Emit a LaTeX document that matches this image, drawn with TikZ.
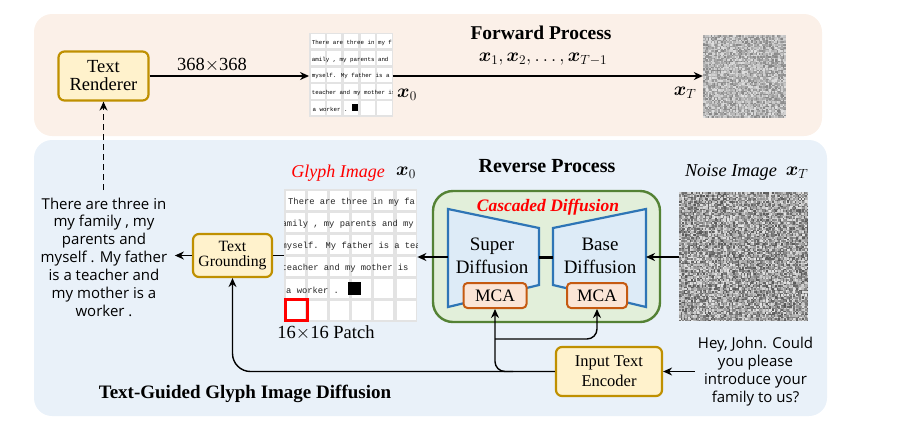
\RequirePackage{fix-cm}
\documentclass[tikz,border=0pt]{standalone}
\usepackage{amsmath}
\usepackage{fontspec}
\setmainfont{Liberation Serif}
\newfontfamily\sanstxt{Open Sans}
\newfontfamily\monotxt{Liberation Mono}
\usetikzlibrary{arrows.meta}
\definecolor{toppanel}{HTML}{FBF0E8}
\definecolor{botpanel}{HTML}{E9F1F9}
\definecolor{boxgold}{HTML}{BF9000}
\definecolor{boxyellow}{HTML}{FFF2CC}
\definecolor{greenborder}{HTML}{548235}
\definecolor{greenfill}{HTML}{E2EFDA}
\definecolor{blueborder}{HTML}{2E75B6}
\definecolor{bluefill}{HTML}{DDEBF7}
\definecolor{mcaborder}{HTML}{C55A11}
\definecolor{mcafill}{HTML}{FBE5D6}
\definecolor{gridgray}{HTML}{E3E3E3}
\tikzset{
  yellowbox/.style={draw=boxgold, fill=boxyellow, line width=2.2pt, rounded corners=6pt, align=center, inner sep=0pt},
  mcabox/.style={draw=mcaborder, fill=mcafill, line width=2pt, rounded corners=4pt, inner sep=0pt, font=\fontsize{17.5}{20}\selectfont},
  arr/.style={-{Stealth[length=9pt,width=8pt]}, line width=1.4pt},
  plain/.style={line width=1.4pt},
  serif18/.style={font=\fontsize{18.5}{21}\selectfont},
  lbl/.style={inner sep=0pt, anchor=center},
  gridtxt/.style={inner sep=0pt, anchor=west, font=\monotxt\fontsize{8.8}{10}\selectfont, text=black!85},
  smalltxt/.style={inner sep=0pt, anchor=west, font=\monotxt\fontsize{5.8}{7}\selectfont},
  storytxt/.style={inner sep=0pt, align=center, font=\sanstxt\fontsize{15}{17.8}\selectfont},
}
\begin{document}
\begin{tikzpicture}[x=1pt,y=-1pt]
\useasboundingbox (0,0) rectangle (904,445);
% panels
\fill[toppanel, rounded corners=18] (34,14) rectangle (822,136);
\fill[botpanel, rounded corners=18] (34,140) rectangle (827,416);

% ---------- forward process ----------
\node[yellowbox, minimum width=90, minimum height=49, font=\fontsize{18.5}{18}\selectfont] (render) at (103.5,76) {Text\\Renderer};
\node[lbl, serif18] (size) at (212,65) {368$\times$368};

% small grid
\node[minimum width=83.5, minimum height=84, inner sep=0, fill=gridgray] (smallgrid) at (351,74.7) {};
\foreach \i in {0,...,4}{\foreach \j in {0,...,4}{
  \fill[white] (309.3+1.3+16.7*\i, 32.7+1.3+16.8*\j) rectangle ++(14.1,14.2);}}
\begin{scope}
\clip (309.3,32.7) rectangle (392.8,116.7);
\node[smalltxt] at (311.7,43) {There are three in my f};
\node[smalltxt] at (311.7,59.5) {amily , my parents and};
\node[smalltxt] at (311.7,76) {myself. My father is a};
\node[smalltxt] at (311.7,92.5) {teacher and my mother is};
\node[smalltxt] at (312.5,109) {a worker .};
\fill[black] (351.7,104.3) rectangle (358.3,110.8);
\end{scope}
\node[lbl, font=\fontsize{19}{22}\selectfont] (xzeroA) at (407,95) {$\boldsymbol{x}_0$};

% top noise
\node[minimum width=82, minimum height=82, inner sep=0] (noiseTop) at (744,76) {};
\pgfmathsetseed{4242}
\foreach \i in {0,...,54}{\foreach \j in {0,...,54}{
  \pgfmathsetmacro\g{int(random(12,48))}
  \fill[black!\g] (703+1.5*\i,35+1.5*\j) rectangle ++(1.55,1.55);}}

\node[lbl, font=\bfseries\fontsize{19.5}{22}\selectfont] (fwd) at (541,33) {Forward Process};
\node[lbl, font=\fontsize{19}{22}\selectfont] (xseq) at (543,59) {$\boldsymbol{x}_1,\boldsymbol{x}_2,\ldots,\boldsymbol{x}_{T-1}$};
\node[lbl, font=\fontsize{19}{22}\selectfont] (xTa) at (685,93) {$\boldsymbol{x}_T$};

\draw[arr] (render.east) -- (render.east -| smallgrid.west);
\draw[arr] (render.east -| smallgrid.east) -- (render.east -| noiseTop.west);

% ---------- reverse process ----------
\node[lbl, font=\bfseries\fontsize{20}{22}\selectfont] (rev) at (547,166) {Reverse Process};
\node[lbl, font=\bfseries\fontsize{19}{22}\selectfont] (tg) at (245,394) {Text-Guided Glyph Image Diffusion};

% glyph grid
\node[minimum width=133, minimum height=133, inner sep=0, fill=gridgray] (glyph) at (350.7,255.5) {};
\foreach \i in {0,...,5}{\foreach \j in {0,...,5}{
  \fill[white] (284.2+1.6+22.17*\i, 189+1.6+22.17*\j) rectangle ++(19,19);}}
\begin{scope}
\clip (284.2,189) rectangle (417.2,322);
\node[gridtxt] at (288,202.5) {There are three in my fa};
\node[gridtxt] at (281.5,224.5) {amily , my parents and my};
\node[gridtxt] at (281.5,246.5) {myself. My father is a tea};
\node[gridtxt] at (281.5,268.5) {teacher and my mother is};
\node[gridtxt] at (286,290.5) {a worker .};
\fill[black] (348,282) rectangle (360.5,294.5);
\end{scope}
\draw[red, line width=2.4pt] (285.6,299.6) rectangle (307.6,320.6);
\node[lbl, serif18] (patch) at (326,332.5) {16$\times$16 Patch};
\node[lbl, font=\itshape\fontsize{18}{21}\selectfont, text=red] (glyphlbl) at (338,173) {Glyph Image};
\node[lbl, font=\fontsize{19}{22}\selectfont] (xzeroB) at (406,173) {$\boldsymbol{x}_0$};

% text grounding
\node[yellowbox, minimum width=79, minimum height=43, font=\fontsize{15.7}{15.7}\selectfont] (ground) at (232.5,255.5) {Text\\Grounding};
\node[storytxt] (story) at (104,257) {There are three in\\my family , my\\parents and\\myself . My father\\is a teacher and\\my mother is a\\worker .};

% cascaded diffusion
\node[draw=greenborder, fill=greenfill, line width=2.4pt, rounded corners=20, minimum width=227, minimum height=131, inner sep=0] (casc) at (546.5,256.5) {};
\node[lbl, font=\bfseries\itshape\fontsize{17.5}{20}\selectfont, text=red] (casclbl) at (548,207.5) {Cascaded Diffusion};
\draw[draw=blueborder, fill=bluefill, line width=2.2pt] (448,209) -- (539,228) -- (539,285) -- (448,307) -- cycle;
\draw[draw=blueborder, fill=bluefill, line width=2.2pt] (646,209) -- (553,228) -- (553,285) -- (646,307) -- cycle;
\coordinate (superW) at (448,257);
\coordinate (superE) at (539,257);
\coordinate (baseW) at (553,257);
\coordinate (baseE) at (646,257);
\draw[line width=3pt] (superE) -- (baseW);
\node[lbl, font=\fontsize{19}{22.5}\selectfont, align=center] (superlbl) at (492,256) {Super\\Diffusion};
\node[lbl, font=\fontsize{19}{22.5}\selectfont, align=center] (baselbl) at (600,256) {Base\\Diffusion};
\node[mcabox, minimum width=63, minimum height=25] (mcaA) at (495,295.5) {MCA};
\node[mcabox, minimum width=60, minimum height=25] (mcaB) at (597,295.5) {MCA};

% bottom noise
\node[minimum width=130, minimum height=130, inner sep=0] (noiseBot) at (744,257) {};
\pgfmathsetseed{777}
\foreach \i in {0,...,85}{\foreach \j in {0,...,85}{
  \pgfmathsetmacro\g{int(random(10,66))}
  \fill[black!\g] (679+1.5*\i,192+1.5*\j) rectangle ++(1.55,1.55);}}
\node[lbl, font=\itshape\fontsize{18.3}{21}\selectfont] (noiselbl) at (731,172) {Noise Image};
\node[lbl, font=\fontsize{19}{22}\selectfont] (xTb) at (797,173) {$\boldsymbol{x}_T$};

% input text encoder
\node[yellowbox, minimum width=106, minimum height=49, font=\fontsize{16.5}{20}\selectfont] (enc) at (609,371.5) {Input Text\\Encoder};
\node[storytxt] (query) at (755.5,371.5) {Hey, John. Could\\you please\\introduce your\\family to us?};

% connectors
\draw[arr, dashed, dash pattern=on 6pt off 4pt] (render.south |- 0,190) -- (render.south);
\draw[arr] (ground.west) -- ++(-17,0);
\draw[plain] (glyph.west |- ground.east) -- (ground.east);
\draw[arr] (superW) -- (superW -| glyph.east);
\draw[arr] (noiseBot.west |- baseE) -- (baseE);
\draw[arr] (query.west |- enc.east) ++(-3,0) -- (enc.east);
\draw[arr, rounded corners=18] (enc.west) -- (ground.south |- enc.west) -- (ground.south);
\draw[arr, rounded corners=10] (enc.west -| mcaA.south) ++(18,0) -| (mcaA.south);
\draw[arr, rounded corners=10] (mcaA.south |- 0,339) -| (mcaB.south);
\end{tikzpicture}
\end{document}
